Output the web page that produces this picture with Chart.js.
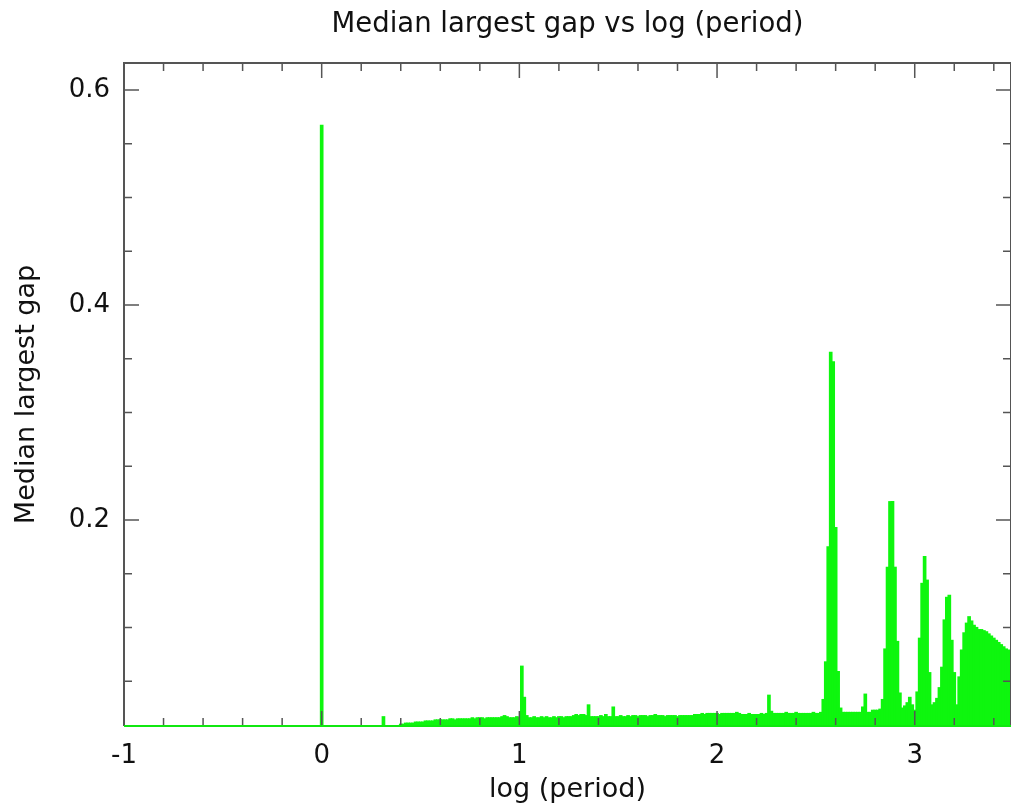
<!DOCTYPE html>
<html>
<head>
<meta charset="utf-8">
<script src="https://cdn.jsdelivr.net/npm/chart.js@4.4.1/dist/chart.umd.min.js"></script>
<style>
  html, body { margin: 0; padding: 0; background: #fff; }
</style>
</head>
<body>
<canvas id="gapChart" width="1011" height="808"></canvas>
<script>
// histogram bins in log(period), starting at 0 with a fixed width
const binStart = 0;
const binWidth = 0.0125;
const medianGap = [
  0.567, 0, 0, 0, 0, 0, 0, 0, 0, 0,
  0, 0, 0, 0, 0, 0, 0, 0, 0, 0,
  0, 0, 0, 0, 0, 0.017, 0, 0, 0, 0,
  0, 0, 0.010, 0.010, 0.011, 0.011, 0.011, 0.011, 0.012, 0.012,
  0.012, 0.012, 0.013, 0.013, 0.013, 0.013, 0.014, 0.014, 0.014, 0.014,
  0.014, 0.014, 0.015, 0.015, 0.014, 0.015, 0.015, 0.015, 0.015, 0.015,
  0.015, 0.016, 0.015, 0.016, 0.016, 0.016, 0.015, 0.016, 0.016, 0.016,
  0.016, 0.016, 0.016, 0.017, 0.018, 0.017, 0.016, 0.016, 0.016, 0.017,
  0.016, 0.064, 0.035, 0.018, 0.016, 0.016, 0.017, 0.016, 0.016, 0.017,
  0.016, 0.017, 0.016, 0.016, 0.017, 0.016, 0.017, 0.017, 0.016, 0.017,
  0.017, 0.017, 0.018, 0.019, 0.018, 0.019, 0.019, 0.018, 0.028, 0.017,
  0.017, 0.017, 0.017, 0.018, 0.017, 0.019, 0.017, 0.017, 0.026, 0.017,
  0.017, 0.018, 0.017, 0.017, 0.018, 0.017, 0.018, 0.018, 0.017, 0.018,
  0.018, 0.018, 0.017, 0.018, 0.018, 0.019, 0.018, 0.018, 0.018, 0.017,
  0.018, 0.018, 0.018, 0.018, 0.017, 0.018, 0.018, 0.018, 0.018, 0.018,
  0.018, 0.019, 0.019, 0.019, 0.020, 0.019, 0.020, 0.020, 0.020, 0.020,
  0.020, 0.019, 0.020, 0.020, 0.020, 0.020, 0.020, 0.020, 0.021, 0.020,
  0.019, 0.019, 0.019, 0.020, 0.019, 0.019, 0.019, 0.019, 0.020, 0.019,
  0.020, 0.037, 0.022, 0.020, 0.020, 0.020, 0.020, 0.020, 0.021, 0.020,
  0.020, 0.020, 0.021, 0.020, 0.020, 0.020, 0.020, 0.020, 0.020, 0.021,
  0.020, 0.020, 0.021, 0.033, 0.068, 0.175, 0.356, 0.347, 0.193, 0.059,
  0.025, 0.021, 0.021, 0.021, 0.021, 0.021, 0.021, 0.021, 0.021, 0.026,
  0.038, 0.021, 0.021, 0.023, 0.023, 0.023, 0.024, 0.033, 0.080, 0.156,
  0.217, 0.217, 0.156, 0.087, 0.039, 0.025, 0.027, 0.030, 0.035, 0.028,
  0.023, 0.040, 0.090, 0.141, 0.166, 0.144, 0.058, 0.028, 0.030, 0.034,
  0.044, 0.063, 0.107, 0.128, 0.130, 0.088, 0.058, 0.028, 0.054, 0.079,
  0.095, 0.104, 0.110, 0.106, 0.102, 0.100, 0.098, 0.098, 0.097, 0.096,
  0.094, 0.092, 0.090, 0.088, 0.086, 0.084, 0.082, 0.080, 0.079, 0.077,
  0.076
];

const xTickValues = [-1, -0.8, -0.6, -0.4, -0.2, 0, 0.2, 0.4, 0.6, 0.8, 1, 1.2, 1.4, 1.6, 1.8,
  2, 2.2, 2.4, 2.6, 2.8, 3, 3.2, 3.4];
const xLabelTicks = [-1, 0, 1, 2, 3];
const yTickValues = [0.05, 0.1, 0.15, 0.2, 0.25, 0.3, 0.35, 0.4, 0.45, 0.5, 0.55, 0.6];
const yLabelTicks = [0.2, 0.4, 0.6];

const FONT = 'DejaVu Sans';

const logPeriod = medianGap.map((_, i) => +(binStart + i * binWidth).toFixed(4));

// ticks drawn inward on all four sides, plus the frame
const frameTicks = {
  id: 'frameTicks',
  afterDatasetsDraw(chart) {
    const { ctx, chartArea: a, scales: { x, y } } = chart;
    ctx.save();
    ctx.strokeStyle = '#555';
    ctx.lineWidth = 1.5;
    ctx.beginPath();
    xTickValues.forEach(v => {
      const px = x.getPixelForValue(v);
      const len = xLabelTicks.includes(v) ? 15 : 8;
      ctx.moveTo(px, a.bottom);
      ctx.lineTo(px, a.bottom - len);
      ctx.moveTo(px, a.top);
      ctx.lineTo(px, a.top + len);
    });
    yTickValues.forEach(v => {
      const py = y.getPixelForValue(v);
      const len = yLabelTicks.includes(v) ? 15 : 8;
      ctx.moveTo(a.left, py);
      ctx.lineTo(a.left + len, py);
      ctx.moveTo(a.right, py);
      ctx.lineTo(a.right - len, py);
    });
    ctx.stroke();

    ctx.lineWidth = 2;
    ctx.beginPath();
    ctx.moveTo(a.left, a.bottom);
    ctx.lineTo(a.left, a.top);
    ctx.lineTo(a.right, a.top);
    ctx.lineTo(a.right, a.bottom);
    ctx.stroke();

    ctx.strokeStyle = '#10e810';
    ctx.beginPath();
    ctx.moveTo(a.left, a.bottom);
    ctx.lineTo(a.right, a.bottom);
    ctx.stroke();
    ctx.restore();
  }
};

const ctx = document.getElementById('gapChart').getContext('2d');
new Chart(ctx, {
  type: 'bar',
  data: {
    datasets: [{
      data: logPeriod.map((x, i) => ({ x: x, y: medianGap[i] })),
      backgroundColor: 'rgb(14,246,14)',
      borderWidth: 0,
      inflateAmount: 0.6,
      barPercentage: 1,
      categoryPercentage: 1
    }]
  },
  options: {
    responsive: false,
    animation: false,
    layout: { padding: 0 },
    plugins: {
      legend: { display: false },
      tooltip: { enabled: false },
      title: {
        display: true,
        text: 'Median largest gap vs log (period)',
        fullSize: false,
        color: '#111',
        font: { family: FONT, size: 27.5, weight: 'normal' },
        padding: { top: 8, bottom: 22 }
      }
    },
    scales: {
      x: {
        type: 'linear',
        min: -1,
        max: 3.487,
        offset: false,
        grid: { display: false, offset: false },
        border: { display: false },
        afterBuildTicks: s => { s.ticks = xTickValues.map(v => ({ value: v })); },
        afterFit: s => { s.height = 82; },
        ticks: {
          autoSkip: false,
          maxRotation: 0,
          padding: 7,
          color: '#111',
          font: { family: FONT, size: 26 },
          callback: v => xLabelTicks.includes(v) ? String(v) : ''
        },
        title: {
          display: true,
          text: 'log (period)',
          color: '#111',
          font: { family: FONT, size: 27 },
          padding: { top: 0, bottom: 2 }
        }
      },
      y: {
        type: 'linear',
        min: 0.0084,
        max: 0.625,
        grid: { display: false },
        border: { display: false },
        afterBuildTicks: s => { s.ticks = yTickValues.map(v => ({ value: v })); },
        afterFit: s => { s.width = 124; },
        ticks: {
          autoSkip: false,
          padding: 6,
          color: '#111',
          font: { family: FONT, size: 26 },
          callback: v => yLabelTicks.includes(v) ? v.toFixed(1) : ''
        },
        title: {
          display: true,
          text: 'Median largest gap',
          color: '#111',
          font: { family: FONT, size: 27 },
          padding: { top: 11, bottom: 0 }
        }
      }
    }
  },
  plugins: [frameTicks]
});
</script>
</body>
</html>
